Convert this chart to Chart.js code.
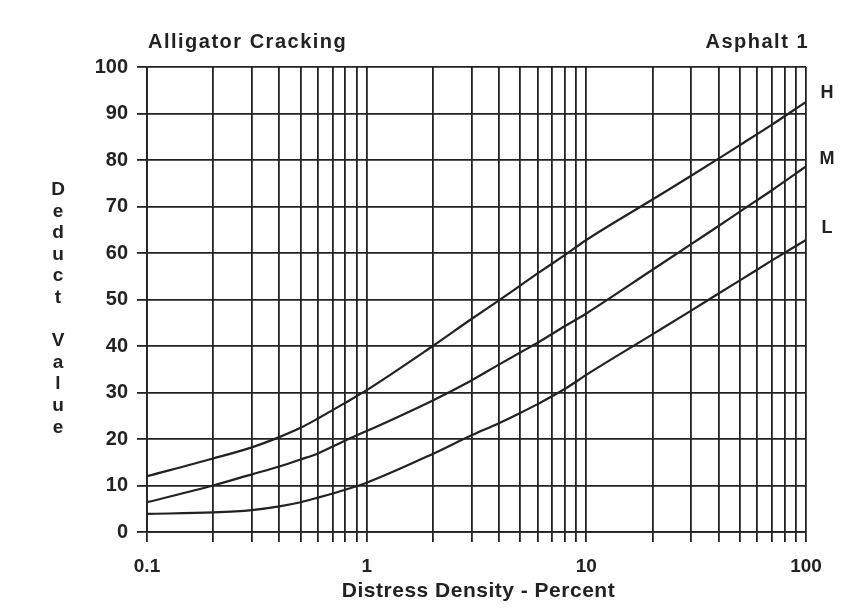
<!DOCTYPE html>
<html><head><meta charset="utf-8">
<script src="https://cdn.jsdelivr.net/npm/chart.js@4/dist/chart.umd.min.js"></script>
<style>html,body{margin:0;padding:0;background:#fff}canvas{display:block}</style>
</head><body>
<canvas id="c" width="855" height="608"></canvas>
<script>
// ---- data ----
const density        = [0.1, 0.2, 0.3, 0.4, 0.5, 0.6, 0.8, 1, 2, 3, 4, 5, 6, 8, 10, 20, 30, 40, 50, 70, 100];
const highSeverity   = [12.0,15.8,18.2,20.4,22.4,24.4,27.8,30.5,40.0,45.8,49.8,53.0,55.6,59.6,62.8,71.5,76.6,80.3,83.2,87.6,92.5];
const mediumSeverity = [6.4, 10.0,12.4,14.1,15.6,16.9,19.7,21.7,28.3,32.6,36.0,38.6,40.7,44.3,47.0,56.4,61.9,65.8,68.9,73.5,78.6];
const lowSeverity    = [3.9, 4.2, 4.7, 5.5, 6.4, 7.4, 9.1, 10.6,16.8,20.8,23.4,25.6,27.5,30.8,33.8,42.5,47.6,51.3,54.1,58.4,62.8];
const seriesLabels   = ['H', 'M', 'L'];
const xGridValues    = [0.1,0.2,0.3,0.4,0.5,0.6,0.7,0.8,0.9,1,2,3,4,5,6,7,8,9,10,20,30,40,50,60,70,80,90,100];
const xTickValues    = [0.1, 1, 10, 100];
const xTickLabels    = ['0.1', '1', '10', '100'];
const yMin = 0, yMax = 100, yStep = 10;
const chartTitle    = 'Alligator Cracking';
const chartSubtitle = 'Asphalt 1';
const xAxisTitle    = 'Distress Density - Percent';
const yAxisTitleWords = ['Deduct', 'Value'];

// ---- styles ----
const INK = '#222222';
const FONT = '"Liberation Sans", Arial, Helvetica, sans-serif';
const labelOffsets = [-9, -7.5, -12];

function pts(ys){ return density.map((x,i)=>({x:x, y:ys[i]})); }
const lineStyle = {borderColor: INK, borderWidth: 2.2, pointRadius: 0, fill: false, cubicInterpolationMode: 'monotone'};

const textPlugin = {
  id: 'texts',
  beforeDraw(chart){
    const c = chart.ctx; c.save(); c.fillStyle = '#ffffff'; c.fillRect(0,0,chart.width,chart.height); c.restore();
  },
  afterDraw(chart){
    const c = chart.ctx, a = chart.chartArea, ys = chart.scales.y;
    c.save();
    c.fillStyle = INK;
    c.textBaseline = 'alphabetic';
    c.font = 'bold 20px ' + FONT;
    c.letterSpacing = '1.5px';
    c.textAlign = 'left';
    c.fillText(chartTitle, a.left + 1, 48);
    c.textAlign = 'right';
    c.fillText(chartSubtitle, a.right + 3, 48);
    // x axis title
    c.font = 'bold 21px ' + FONT;
    c.letterSpacing = '0.5px';
    c.textAlign = 'center';
    c.fillText(xAxisTitle, (a.left + a.right) / 2 + 2, 597);
    c.letterSpacing = '0px';
    // y axis title stacked letters
    c.font = 'bold 19px ' + FONT;
    const letters = (yAxisTitleWords[0] + ' ' + yAxisTitleWords[1]).split('');
    letters.forEach((ch, i) => { if (ch !== ' ') c.fillText(ch, 58, 195 + i * 21.6); });
    // series labels
    c.font = 'bold 18px ' + FONT;
    c.textBaseline = 'middle';
    const lasts = [highSeverity, mediumSeverity, lowSeverity].map(s => s[s.length - 1]);
    seriesLabels.forEach((lab, i) => c.fillText(lab, 827, ys.getPixelForValue(lasts[i]) + labelOffsets[i]));
    c.restore();
  }
};

new Chart(document.getElementById('c'), {
  type: 'line',
  data: {
    datasets: [
      Object.assign({label: seriesLabels[0], data: pts(highSeverity)}, lineStyle),
      Object.assign({label: seriesLabels[1], data: pts(mediumSeverity)}, lineStyle),
      Object.assign({label: seriesLabels[2], data: pts(lowSeverity)}, lineStyle)
    ]
  },
  options: {
    responsive: false, animation: false, devicePixelRatio: 1,
    layout: {padding: {left: 87, right: 49, top: 67, bottom: 0}},
    plugins: {legend: {display: false}, tooltip: {enabled: false}, title: {display: false}},
    scales: {
      x: {
        type: 'logarithmic', min: 0.1, max: 100,
        afterBuildTicks: s => { s.ticks = xGridValues.map(v => ({value: v})); },
        afterFit: s => { s.height = 76; },
        ticks: {
          autoSkip: false, maxRotation: 0, minRotation: 0, padding: 13,
          color: INK, font: {family: FONT, size: 19, weight: 'bold'},
          callback: (v) => { const k = xTickValues.findIndex(t => Math.abs(t - v) < 1e-9); return k >= 0 ? xTickLabels[k] : ''; }
        },
        grid: {color: INK, lineWidth: 1.8, tickLength: 10, drawTicks: true},
        border: {color: INK, width: 1.8}
      },
      y: {
        type: 'linear', min: yMin, max: yMax,
        afterFit: s => { s.width = 60; },
        ticks: {stepSize: yStep, padding: 9, color: INK, font: {family: FONT, size: 20, weight: 'bold'}},
        grid: {color: INK, lineWidth: 1.8, tickLength: 10, drawTicks: true},
        border: {color: INK, width: 1.8}
      }
    }
  },
  plugins: [textPlugin]
});
</script>
</body></html>
